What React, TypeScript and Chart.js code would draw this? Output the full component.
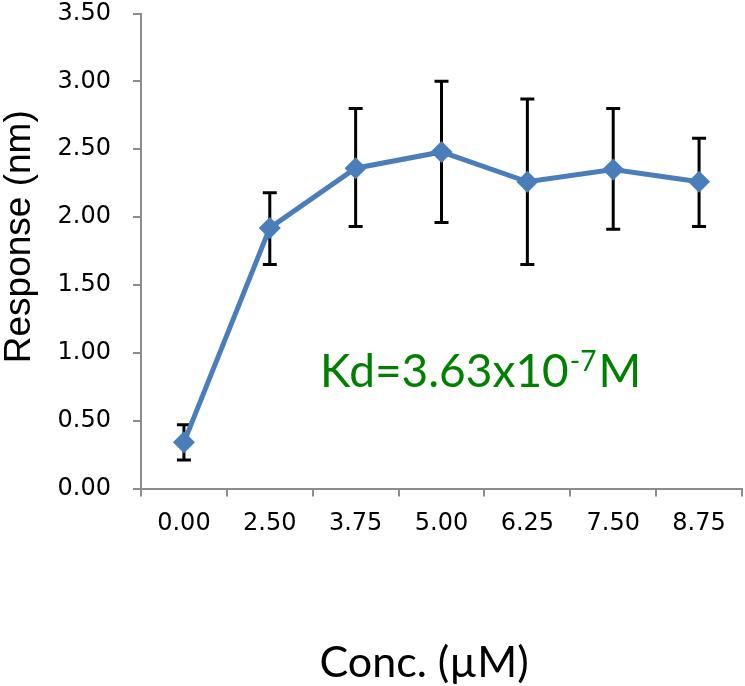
import React, { useEffect, useRef } from "react";
import { Chart, registerables } from "chart.js";

Chart.register(...registerables);

const categories = ["0.00", "2.50", "3.75", "5.00", "6.25", "7.50", "8.75"];
const response = [0.34, 1.92, 2.36, 2.48, 2.26, 2.35, 2.26];
const errorLow = [0.21, 1.65, 1.93, 1.96, 1.65, 1.91, 1.93];
const errorHigh = [0.47, 2.18, 2.8, 3.0, 2.87, 2.8, 2.58];
const yMin = 0;
const yMax = 3.5;
const yStep = 0.5;
const xTitle = "Conc. (µM)";
const yTitle = "Response (nm)";
const kdMain = "Kd=3.63x10";
const kdSup = "-7";
const kdUnit = "M";

const errorBarPlugin = {
  id: "errorBars",
  beforeDatasetsDraw(chart: any) {
    const { ctx, scales } = chart;
    const xs = scales.x;
    const ys = scales.y;
    ctx.save();
    ctx.strokeStyle = "#000000";
    ctx.lineWidth = 3;
    ctx.lineCap = "butt";
    const cap = 7;
    categories.forEach((_, i) => {
      const x = xs.getPixelForValue(i);
      const yl = ys.getPixelForValue(errorLow[i]);
      const yh = ys.getPixelForValue(errorHigh[i]);
      ctx.beginPath();
      ctx.moveTo(x, yl);
      ctx.lineTo(x, yh);
      ctx.moveTo(x - cap, yl);
      ctx.lineTo(x + cap, yl);
      ctx.moveTo(x - cap, yh);
      ctx.lineTo(x + cap, yh);
      ctx.stroke();
    });
    ctx.restore();
  },
};

const textPlugin = {
  id: "texts",
  afterDraw(chart: any) {
    const { ctx, chartArea } = chart;
    const { left, right, top, bottom } = chartArea;
    const w = right - left;
    const h = bottom - top;
    ctx.save();
    // Kd annotation
    ctx.fillStyle = "#008000";
    ctx.textBaseline = "alphabetic";
    ctx.textAlign = "left";
    const kx = left + w * 0.298;
    const ky = top + h * 0.786;
    ctx.font = "46px Lato";
    ctx.fillText(kdMain, kx, ky);
    let cx = kx + ctx.measureText(kdMain).width;
    ctx.font = "28px Lato";
    ctx.fillText(kdSup, cx + 1, ky - 16);
    cx += ctx.measureText(kdSup).width + 3;
    ctx.font = "46px Lato";
    ctx.fillText(kdUnit, cx, ky);

    // x title
    ctx.fillStyle = "#000000";
    ctx.font = "43px Lato";
    ctx.textAlign = "center";
    ctx.fillText(xTitle, left + w * 0.471, 677);

    // y title
    ctx.translate(20, top + h * 0.47);
    ctx.rotate(-Math.PI / 2);
    ctx.font = "37px 'Liberation Sans'";
    ctx.textAlign = "center";
    ctx.textBaseline = "middle";
    ctx.fillText(yTitle, 0, 0);
    ctx.restore();
  },
};

export default function App() {
  const ref = useRef<HTMLCanvasElement | null>(null);
  useEffect(() => {
    document.body.style.margin = "0";
    const canvas = ref.current;
    if (!canvas) return;
    const chart = new Chart(canvas, {
      type: "line",
      data: {
        labels: categories,
        datasets: [
          {
            data: response,
            borderColor: "#4A7EBB",
            backgroundColor: "#4A7EBB",
            borderWidth: 5,
            pointStyle: "rectRot",
            pointRadius: 11,
            pointHoverRadius: 11,
            pointBackgroundColor: "#4A7EBB",
            pointBorderColor: "#4A7EBB",
            pointBorderWidth: 0,
            tension: 0,
            clip: false,
          },
        ],
      },
      options: {
        animation: false,
        responsive: false,
        maintainAspectRatio: false,
        layout: { autoPadding: false, padding: { top: 13.5, right: 3, left: 0, bottom: 0 } },
        plugins: {
          legend: { display: false },
          tooltip: { enabled: false },
          title: { display: false },
        },
        scales: {
          x: {
            type: "category",
            offset: true,
            grid: {
              offset: true,
              drawOnChartArea: false,
              drawTicks: true,
              tickLength: 8,
              color: "#8c8c8c",
              lineWidth: 2,
            },
            border: { color: "#8c8c8c", width: 2 },
            ticks: {
              color: "#000000",
              font: { family: "'DejaVu Sans'", size: 24 },
              padding: 13,
              maxRotation: 0,
              autoSkip: false,
            },
            afterFit(scale: any) {
              scale.height = 197.5;
              scale.paddingLeft = 0;
              scale.paddingRight = 0;
            },
          },
          y: {
            min: yMin,
            max: yMax,
            grid: {
              drawOnChartArea: false,
              drawTicks: true,
              tickLength: 8,
              color: "#8c8c8c",
              lineWidth: 2,
            },
            border: { color: "#8c8c8c", width: 2 },
            ticks: {
              stepSize: yStep,
              color: "#000000",
              font: { family: "'DejaVu Sans'", size: 24 },
              padding: 22,
              callback: (v: any) => Number(v).toFixed(2),
            },
            afterFit(scale: any) {
              scale.width = 141;
              scale.paddingTop = 0;
              scale.paddingBottom = 0;
            },
          },
        },
      },
      plugins: [errorBarPlugin, textPlugin],
    });
    return () => chart.destroy();
  }, []);
  return (
    <div style={{ width: 745, height: 686 }}>
      <canvas ref={ref} width={745} height={686} style={{ display: "block" }} />
    </div>
  );
}
